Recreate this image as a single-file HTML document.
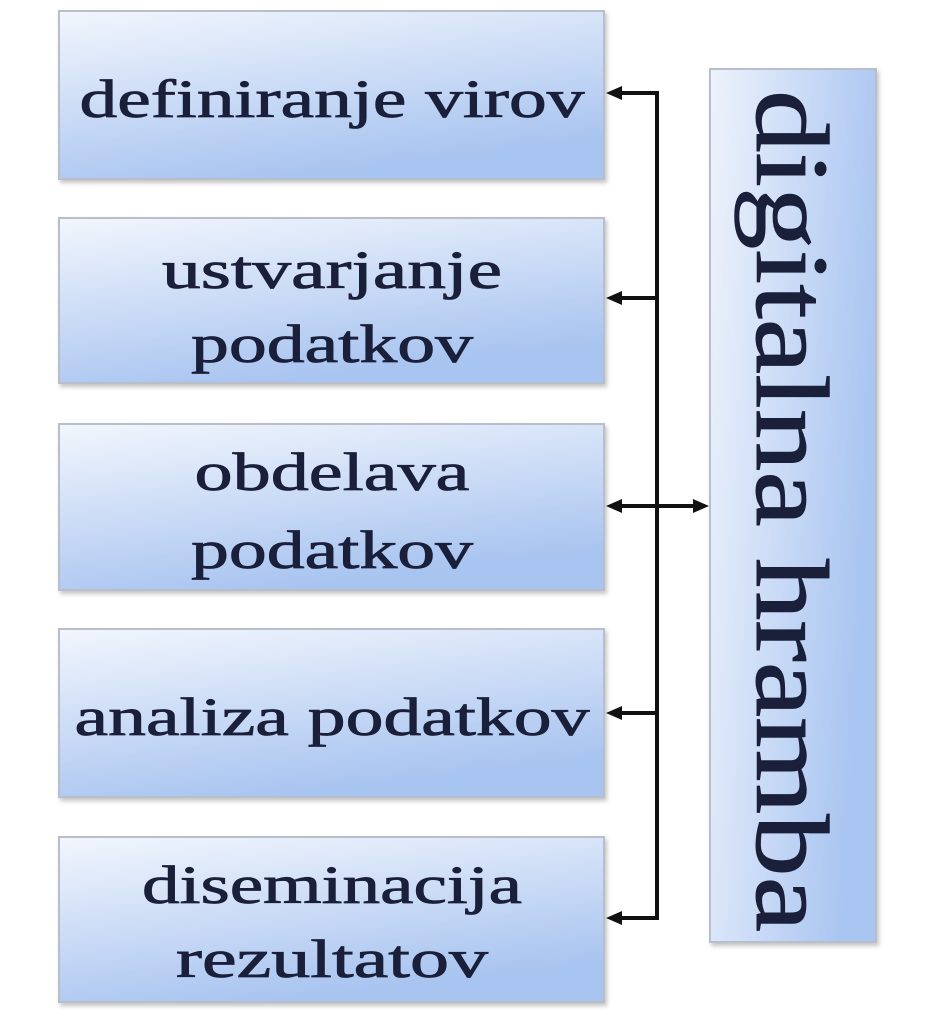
<!DOCTYPE html>
<html><head><style>html,body{margin:0;padding:0;background:#fff;}</style></head>
<body>
<svg width="938" height="1024" viewBox="0 0 938 1024" xmlns="http://www.w3.org/2000/svg">
<defs>
<linearGradient id="g" x1="0" y1="0" x2="0.4" y2="1">
<stop offset="0" stop-color="#f2f6fd"/><stop offset="1" stop-color="#a8c4f0"/>
</linearGradient>
<linearGradient id="g2" x1="0" y1="0" x2="1" y2="0.3">
<stop offset="0" stop-color="#eef3fc"/><stop offset="1" stop-color="#a9c5f1"/>
</linearGradient>
<filter id="s" x="-5%" y="-5%" width="115%" height="115%"><feDropShadow dx="2" dy="3" stdDeviation="2" flood-color="#888" flood-opacity="0.5"/></filter>
</defs>
<g filter="url(#s)" stroke="#b9bfca" stroke-width="2">
<rect x="59" y="11" width="545" height="168" fill="url(#g)"/>
<rect x="59" y="218" width="545" height="165" fill="url(#g)"/>
<rect x="59" y="424" width="545" height="166" fill="url(#g)"/>
<rect x="59" y="629" width="545" height="168" fill="url(#g)"/>
<rect x="59" y="837" width="545" height="165" fill="url(#g)"/>
<rect x="710" y="69" width="166" height="873" fill="url(#g2)"/>
</g>
<g font-family="Liberation Serif, serif" font-size="54" fill="#1a1f3a" text-anchor="middle" stroke="#1a1f3a" stroke-width="0.8">
<text x="332" y="117" textLength="505" lengthAdjust="spacingAndGlyphs">definiranje virov</text>
<text x="332" y="288" textLength="340" lengthAdjust="spacingAndGlyphs">ustvarjanje</text>
<text x="332" y="362" textLength="282" lengthAdjust="spacingAndGlyphs">podatkov</text>
<text x="332" y="490" textLength="275" lengthAdjust="spacingAndGlyphs">obdelava</text>
<text x="332" y="568" textLength="282" lengthAdjust="spacingAndGlyphs">podatkov</text>
<text x="332" y="735" textLength="515" lengthAdjust="spacingAndGlyphs">analiza podatkov</text>
<text x="332" y="903" textLength="380" lengthAdjust="spacingAndGlyphs">diseminacija</text>
<text x="332" y="977" textLength="312" lengthAdjust="spacingAndGlyphs">rezultatov</text>
</g>
<text transform="translate(757,90) rotate(90)" font-family="Liberation Serif, serif" font-size="104" fill="#1a1f3a" stroke="#1a1f3a" stroke-width="1" textLength="842" lengthAdjust="spacingAndGlyphs">digitalna hramba</text>
<g stroke="#111" stroke-width="4" fill="none">
<line x1="657" y1="93" x2="657" y2="918"/>
<line x1="618" y1="93" x2="659" y2="93"/>
<line x1="618" y1="298" x2="657" y2="298"/>
<line x1="618" y1="506" x2="697" y2="506"/>
<line x1="618" y1="713" x2="657" y2="713"/>
<line x1="618" y1="918" x2="659" y2="918"/>
</g>
<g fill="#111">
<polygon points="606,93 622,86 622,100"/>
<polygon points="606,298 622,291 622,305"/>
<polygon points="606,506 622,499 622,513"/>
<polygon points="606,713 622,706 622,720"/>
<polygon points="606,918 622,911 622,925"/>
<polygon points="709,506 693,499 693,513"/>
</g>
</svg>
</body></html>
